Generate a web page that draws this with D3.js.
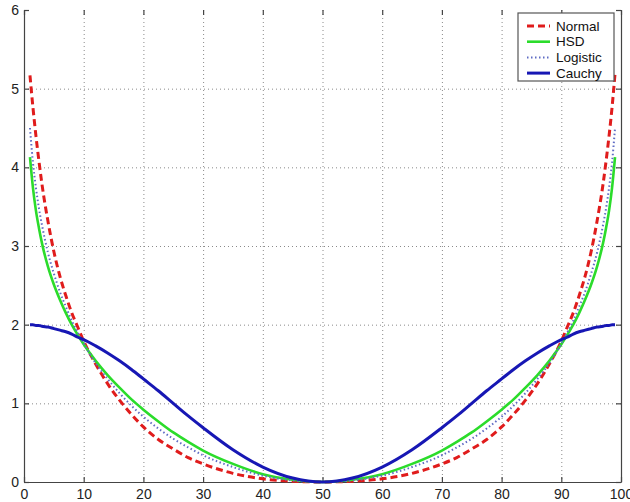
<!DOCTYPE html>
<html>
<head>
<meta charset="utf-8">
<script src="https://cdn.jsdelivr.net/npm/d3@7"></script>
<style>
  body { margin: 0; background: #fff; }
  svg { display: block; font-family: Arial, "Liberation Sans", sans-serif; }
</style>
</head>
<body>
<div id="chart"></div>
<script>
// sample positions along x (percent)
const xs = [1, 1.5, 2, 2.5, 3, 4, 5, 6, 7, 8, 9, 10, 12, 14, 16, 18, 20, 22.5, 25, 27.5, 30, 35, 40, 45, 50,
  55, 60, 65, 70, 72.5, 75, 77.5, 80, 82, 84, 86, 88, 90, 91, 92, 93, 94, 95, 96, 97, 97.5, 98, 98.5, 99];

const normal = [5.17, 4.76, 4.40, 4.08, 3.79, 3.32, 2.93, 2.62, 2.37, 2.15, 1.97, 1.79, 1.50, 1.25, 1.04, 0.86, 0.70, 0.54, 0.42, 0.31, 0.23, 0.11, 0.04, 0.01, 0,
  0.01, 0.04, 0.11, 0.23, 0.31, 0.42, 0.54, 0.70, 0.86, 1.04, 1.25, 1.50, 1.79, 1.97, 2.15, 2.37, 2.62, 2.93, 3.32, 3.79, 4.08, 4.40, 4.76, 5.19];

const hsd = [4.13, 3.74, 3.45, 3.23, 3.04, 2.74, 2.51, 2.32, 2.15, 2.00, 1.87, 1.75, 1.54, 1.36, 1.20, 1.05, 0.92, 0.77, 0.63, 0.51, 0.40, 0.23, 0.10, 0.03, 0,
  0.03, 0.10, 0.23, 0.40, 0.51, 0.63, 0.77, 0.92, 1.05, 1.20, 1.36, 1.54, 1.75, 1.87, 2.00, 2.15, 2.32, 2.51, 2.74, 3.04, 3.23, 3.45, 3.74, 4.13];

const logistic = [4.50, 4.06, 3.74, 3.48, 3.27, 2.92, 2.65, 2.42, 2.23, 2.05, 1.90, 1.76, 1.51, 1.31, 1.13, 0.97, 0.83, 0.68, 0.55, 0.44, 0.34, 0.19, 0.08, 0.02, 0,
  0.02, 0.08, 0.19, 0.34, 0.44, 0.55, 0.68, 0.83, 0.97, 1.13, 1.31, 1.51, 1.76, 1.90, 2.05, 2.23, 2.42, 2.65, 2.92, 3.27, 3.48, 3.74, 4.06, 4.50];

const cauchy = [2.00, 2.00, 1.99, 1.99, 1.98, 1.97, 1.95, 1.93, 1.91, 1.88, 1.84, 1.81, 1.73, 1.64, 1.54, 1.43, 1.31, 1.16, 1.00, 0.84, 0.69, 0.41, 0.19, 0.05, 0,
  0.05, 0.19, 0.41, 0.69, 0.84, 1.00, 1.16, 1.31, 1.43, 1.54, 1.64, 1.73, 1.81, 1.84, 1.88, 1.91, 1.93, 1.95, 1.97, 1.98, 1.99, 1.99, 2.00, 2.00];

const xTicks = [0, 10, 20, 30, 40, 50, 60, 70, 80, 90, 100];
const yTicks = [0, 1, 2, 3, 4, 5, 6];

const seriesNames = ["Normal", "HSD", "Logistic", "Cauchy"];

const width = 630;
const height = 502;
const plotLeft = 24, plotRight = 621, plotTop = 10, plotBottom = 482;

const styles = {
  Normal:   { color: "#e01c1c", width: 3, dash: "7,4" },
  HSD:      { color: "#2bdc2b", width: 2.6, dash: null },
  Logistic: { color: "#5f6cc4", width: 2, dash: "1.5,2.5" },
  Cauchy:   { color: "#1717b4", width: 3, dash: null }
};

const svg = d3.select("#chart")
  .append("svg")
  .attr("width", width)
  .attr("height", height);

const x = d3.scaleLinear().domain([0, 100]).range([plotLeft, plotRight]);
const y = d3.scaleLinear().domain([0, 6]).range([plotBottom, plotTop]);

// dotted grid
const grid = svg.append("g")
  .attr("stroke", "#8a8a8a")
  .attr("stroke-width", 1)
  .attr("stroke-dasharray", "1,3");

grid.selectAll("line.gx")
  .data(xTicks.filter(function(d) { return d > 0 && d < 100; }))
  .enter().append("line")
    .attr("x1", function(d) { return x(d) + 0.5; })
    .attr("x2", function(d) { return x(d) + 0.5; })
    .attr("y1", plotTop)
    .attr("y2", plotBottom);

grid.selectAll("line.gy")
  .data(yTicks.filter(function(d) { return d > 0 && d < 6; }))
  .enter().append("line")
    .attr("x1", plotLeft)
    .attr("x2", plotRight)
    .attr("y1", function(d) { return y(d) + 0.5; })
    .attr("y2", function(d) { return y(d) + 0.5; });

// axes, ticks pointing inward
svg.append("g")
  .attr("transform", "translate(0," + plotBottom + ")")
  .call(d3.axisBottom(x).tickValues(xTicks).tickFormat(d3.format("d"))
    .tickSizeInner(-5).tickSizeOuter(0).tickPadding(7));

svg.append("g")
  .attr("transform", "translate(" + plotLeft + ",0)")
  .call(d3.axisLeft(y).tickValues(yTicks).tickFormat(d3.format("d"))
    .tickSizeInner(-5).tickSizeOuter(0).tickPadding(5));

svg.append("g")
  .attr("transform", "translate(" + plotRight + ",0)")
  .call(d3.axisRight(y).tickValues(yTicks).tickSizeInner(-5).tickSizeOuter(0).tickFormat(""));

svg.append("g")
  .attr("transform", "translate(0," + plotTop + ")")
  .call(d3.axisTop(x).tickValues(xTicks).tickSizeInner(-5).tickSizeOuter(0).tickFormat(""))
  .select(".domain").remove();

svg.selectAll(".domain, .tick line").attr("stroke", "#444").attr("stroke-width", 1.2);
svg.selectAll(".tick text")
  .attr("fill", "#222")
  .style("font-size", "14px")
  .style("font-family", "Arial, 'Liberation Sans', sans-serif");

// curves
const data = {
  Normal: normal,
  HSD: hsd,
  Logistic: logistic,
  Cauchy: cauchy
};

const line = d3.line()
  .x(function(d) { return x(d[0]); })
  .y(function(d) { return y(d[1]); })
  .curve(d3.curveMonotoneX);

seriesNames.forEach(function(name) {
  const pts = xs.map(function(v, i) { return [v, data[name][i]]; });
  const s = styles[name];
  svg.append("path")
    .datum(pts)
    .attr("fill", "none")
    .attr("stroke", s.color)
    .attr("stroke-width", s.width)
    .attr("stroke-dasharray", s.dash)
    .attr("d", line);
});

// legend
const legend = svg.append("g");

legend.append("rect")
  .attr("x", 518)
  .attr("y", 13)
  .attr("width", 96)
  .attr("height", 68)
  .attr("fill", "#fff")
  .attr("stroke", "#555")
  .attr("stroke-width", 1.2);

const rows = legend.selectAll("g.row")
  .data(seriesNames)
  .enter().append("g")
    .attr("transform", function(d, i) { return "translate(0," + (26 + i * 15.7) + ")"; });

rows.append("line")
  .attr("x1", 527)
  .attr("x2", 550)
  .attr("stroke", function(d) { return styles[d].color; })
  .attr("stroke-width", function(d) { return styles[d].width; })
  .attr("stroke-dasharray", function(d) { return styles[d].dash; });

rows.append("text")
  .attr("x", 556)
  .attr("y", 4.5)
  .attr("fill", "#111")
  .style("font-size", "13.5px")
  .text(function(d) { return d; });
</script>
</body>
</html>
